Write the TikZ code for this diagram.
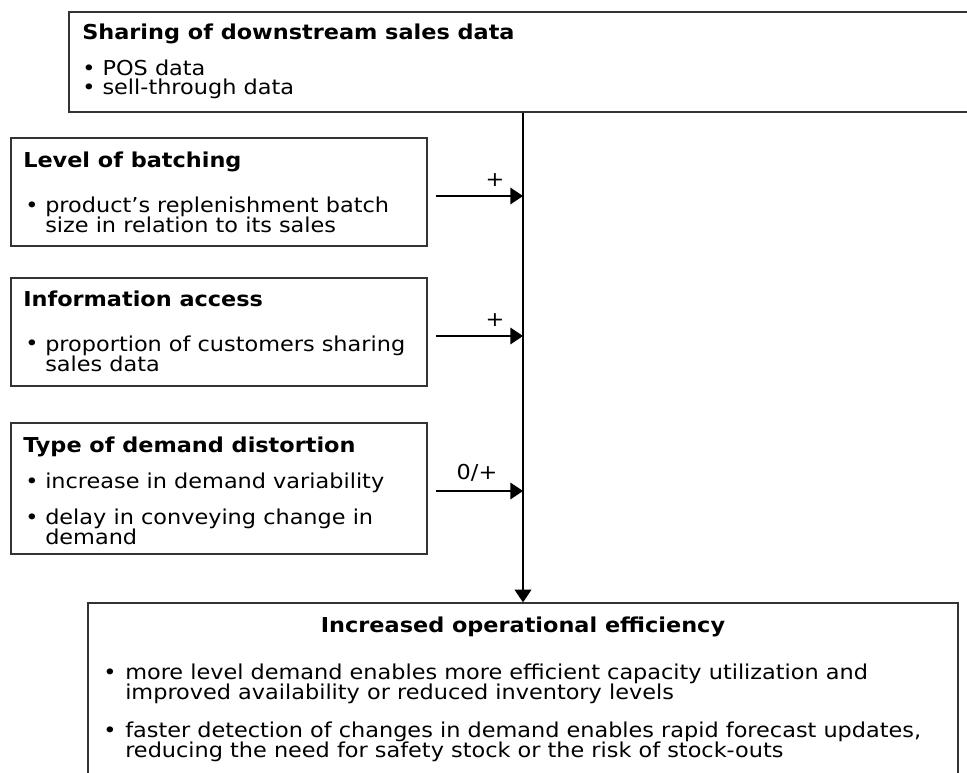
\documentclass[tikz,border=0pt]{standalone}
\usepackage{fontspec}
\setmainfont{DejaVu Sans}[FakeStretch=1.09]
\usetikzlibrary{arrows.meta,fit}
\definecolor{frame}{HTML}{333333}
% fixed line pitch for wrapped bullet text
\newcommand{\bodyfont}[1]{\fontsize{15.4}{#1}\selectfont\lineskiplimit=-100pt\relax\lineskip=0pt\relax}
\begin{document}
\begin{tikzpicture}[x=0.75pt,y=-0.75pt,
  box/.style={draw=frame, line width=0.95pt, inner sep=0pt},
  % multi-line nodes sit on the baseline of their last line
  txt/.style={anchor=base west, inner sep=0pt, align=left, font=\bodyfont{15pt}},
  txtt/.style={txt, font=\bodyfont{14.25pt}},
  head/.style={anchor=base west, inner sep=0pt, font=\fontsize{15.4}{18}\selectfont\bfseries},
  sign/.style={anchor=base, inner sep=0pt, font=\fontsize{15.4}{18}\selectfont},
  flow/.style={line width=1.15pt, -{Triangle[length=9.5pt,width=12.5pt]}}
]
\useasboundingbox (0,0) rectangle (967,773);
\clip (0,0) rectangle (967,773);

% frames (top and bottom ones run off the page edge)
\node[box, fit={(69,12) (980,112)}] (share) {};
\node[box, fit={(11,138) (427,246)}] (batch) {};
\node[box, fit={(11,278) (427,386)}] (access) {};
\node[box, fit={(11,423) (427,554)}] (distort) {};
\node[box, fit={(88,603) (958,790)}] (eff) {};

% top box text
\node[head] (shareH) at (82,40) {Sharing of downstream sales data};
\node[txtt] (shareL) at (82,95) {• POS data\\• sell-through data};

% level of batching
\node[head] (batchH) at (23,168) {Level of batching};
\node[txt] (batchD) at (25,213) {•};
\node[txt] (batchA) at (45,233) {product’s replenishment batch\\size in relation to its sales};

% information access
\node[head] (accessH) at (23,307) {Information access};
\node[txt] (accessD) at (25,351) {•};
\node[txt] (accessA) at (45,372) {proportion of customers sharing\\sales data};

% type of demand distortion
\node[head] (distortH) at (23,452) {Type of demand distortion};
\node[txt] (distortD1) at (25,488) {•};
\node[txt] (distortA) at (45,488) {increase in demand variability};
\node[txt] (distortD2) at (25,524) {•};
\node[txt] (distortB) at (45,544) {delay in conveying change in\\demand};

% outcome box
\node[head, anchor=base] (effH) at (523,632) {Increased operational efficiency};
\node[txt] (effD1) at (103,679) {•};
\node[txt] (effA) at (125,699) {more level demand enables more efficient capacity utilization and\\improved availability or reduced inventory levels};
\node[txt] (effD2) at (103,737) {•};
\node[txt] (effC) at (125,757) {faster detection of changes in demand enables rapid forecast updates,\\reducing the need for safety stock or the risk of stock-outs};

% main flow and moderating arrows
\coordinate (spine) at (523,112);
\draw[flow] (share.south -| spine) -- (eff.north -| spine);

\coordinate (s1) at (436,196);
\coordinate (s2) at (436,336);
\coordinate (s3) at (436,491);
\draw[flow] (s1) -- (s1 -| spine);
\draw[flow] (s2) -- (s2 -| spine);
\draw[flow] (s3) -- (s3 -| spine);

\node[sign] (sg1) at (495,187) {+};
\node[sign] (sg2) at (495,327) {+};
\node[sign] (sg3) at (477,479) {0/+};
\end{tikzpicture}
\end{document}
